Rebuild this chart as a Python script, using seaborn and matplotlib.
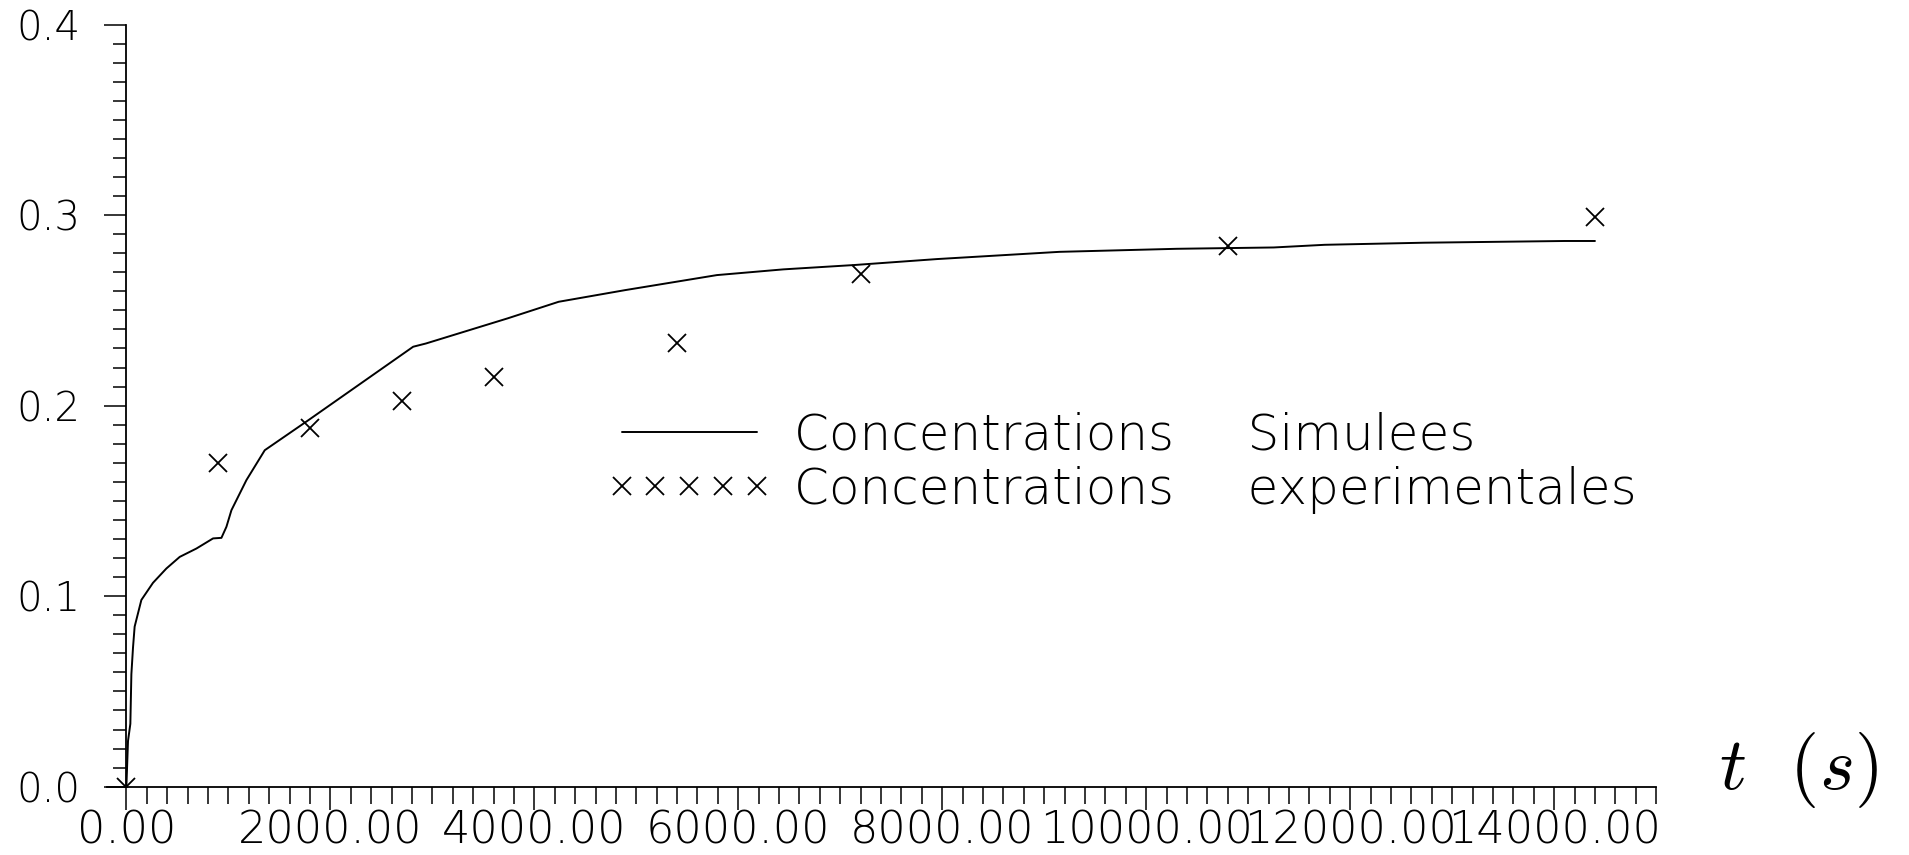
import numpy as np
import matplotlib
matplotlib.use("Agg")
import matplotlib.pyplot as plt
import seaborn as sns
from matplotlib.ticker import MultipleLocator, FormatStrFormatter

# simulated concentration curve
t_sim = [0, 16, 39, 49, 65, 81, 147, 261, 392, 523, 687, 850, 932, 981, 1030,
         1177, 1357, 1786, 2812, 2937, 3739, 4239, 4889, 5790, 6441, 7141,
         7946, 9147, 10298, 11250, 11750, 12726, 14102, 14400]
c_sim = [0.0, 0.024, 0.033, 0.059, 0.073, 0.084, 0.098, 0.107, 0.1145, 0.1206,
         0.125, 0.1303, 0.1306, 0.1364, 0.1451, 0.1609, 0.1766, 0.1924, 0.2309,
         0.2326, 0.2458, 0.2545, 0.2606, 0.2685, 0.2715, 0.2738, 0.2769, 0.2807,
         0.2823, 0.2830, 0.2844, 0.2855, 0.2864, 0.2864]

# experimental points
t_exp = [0, 900, 1800, 2700, 3600, 5400, 7200, 10800, 14400]
c_exp = [0.0, 0.170, 0.188, 0.2025, 0.215, 0.233, 0.269, 0.284, 0.299]

gap = "    \u2009"
lab_sim = "Concentrations" + gap + "Simulees"
lab_exp = "Concentrations" + gap + "experimentales"

sns.set_theme(style="white")
plt.rcParams['font.family'] = ['DejaVu Sans']
plt.rcParams['font.weight'] = 'light'
plt.rcParams['text.color'] = 'black'
plt.rcParams['mathtext.fontset'] = 'cm'

fig = plt.figure(figsize=(19.09, 8.55), dpi=100)
ax = fig.add_axes([0.05605, 0.0799, 0.8115, 0.8914])

sns.lineplot(x=t_sim, y=c_sim, ax=ax, color="black", linewidth=1.4,
             sort=False, label=lab_sim)
sns.lineplot(x=t_exp, y=c_exp, ax=ax, color="black", marker="x",
             linestyle="none", markersize=13, markeredgewidth=1.3,
             markeredgecolor="black", sort=False, label=lab_exp)

ax.set_xlim(-190, 15000)
ax.set_ylim(0, 0.4)

for s in ["top", "right"]:
    ax.spines[s].set_visible(False)
ax.spines["left"].set_position(("data", 0))
for s in ["left", "bottom"]:
    ax.spines[s].set_color("black")
    ax.spines[s].set_linewidth(1.3)

ax.xaxis.set_major_locator(MultipleLocator(2000))
ax.xaxis.set_minor_locator(MultipleLocator(200))
ax.xaxis.set_major_formatter(FormatStrFormatter("%.2f"))
ax.yaxis.set_major_locator(MultipleLocator(0.1))
ax.yaxis.set_minor_locator(MultipleLocator(0.01))
ax.yaxis.set_major_formatter(FormatStrFormatter("%.1f"))

ax.tick_params(axis="x", which="major", direction="out", length=16.5, width=1.1,
               color="black", labelsize=32, pad=0, bottom=True,
               labelcolor="black")
ax.tick_params(axis="x", which="minor", direction="out", length=12, width=1.1,
               color="black", bottom=True)
ax.tick_params(axis="y", which="major", direction="out", length=16, width=1.1,
               color="black", labelsize=29, pad=17, left=True,
               labelcolor="black")
ax.tick_params(axis="y", which="minor", direction="out", length=9.4, width=1.1,
               color="black", left=True)
for lb in ax.get_xticklabels() + ax.get_yticklabels():
    lb.set_fontweight("light")

ax.legend(loc="upper left", bbox_to_anchor=(0.3225, 0.492),
          frameon=False, numpoints=5, handlelength=3.3, handletextpad=0.45,
          labelspacing=0.12, borderpad=0, borderaxespad=0,
          prop={"size": 36, "weight": "light"})

fig.text(0.9005, 0.0994, r"$t\ \ (s)$", fontsize=54, va="center", ha="left",
         color="black")

fig.savefig("out.png", dpi=100)
